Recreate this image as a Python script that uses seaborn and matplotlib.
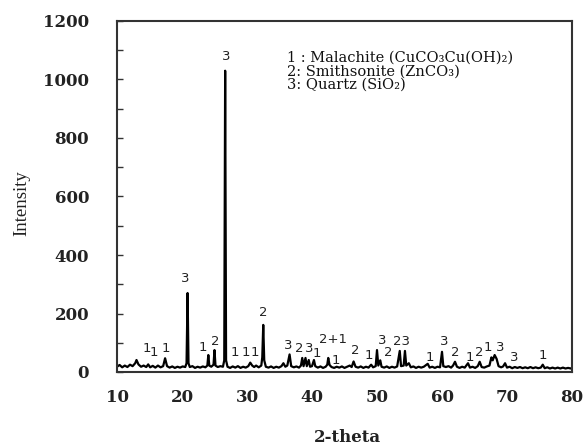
import matplotlib
matplotlib.use("Agg")
import matplotlib.pyplot as plt
import seaborn as sns
import pandas as pd
from matplotlib.ticker import MultipleLocator

# ---- data ----
two_theta = [10.0, 10.4, 10.8, 11.2, 11.6, 12.0, 12.4, 12.8, 13.0, 13.3, 13.7, 14.1, 14.5, 14.8, 15.1,
             15.5, 15.9, 16.3, 16.7, 17.1, 17.4, 17.7, 18.1, 18.5, 18.9, 19.3, 19.7, 20.1, 20.5, 20.7,
             20.86, 21.0, 21.2, 21.6, 22.0, 22.4, 22.8, 23.2, 23.6, 23.9, 24.05, 24.2, 24.5, 24.85, 25.0,
             25.15, 25.5, 25.9, 26.3, 26.5, 26.64, 26.78, 27.0, 27.4, 27.8, 28.2, 28.6, 29.0, 29.4, 29.8,
             30.2, 30.5, 30.8, 31.1, 31.4, 31.8, 32.2, 32.35, 32.5, 32.65, 32.9, 33.3, 33.7, 34.1, 34.5,
             34.9, 35.3, 35.6, 35.9, 36.2, 36.55, 36.8, 37.2, 37.6, 38.0, 38.3, 38.5, 38.7, 39.0, 39.2,
             39.5, 39.7, 40.0, 40.3, 40.5, 40.9, 41.3, 41.7, 42.1, 42.35, 42.5, 42.7, 43.0, 43.4, 43.8,
             44.2, 44.6, 45.0, 45.4, 45.8, 46.1, 46.4, 46.7, 47.1, 47.5, 47.9, 48.3, 48.7, 49.1, 49.4,
             49.8, 50.0, 50.2, 50.5, 50.7, 51.1, 51.5, 51.9, 52.3, 52.7, 53.1, 53.5, 53.7, 54.1, 54.3,
             54.5, 54.9, 55.2, 55.6, 56.0, 56.4, 56.8, 57.2, 57.8, 58.1, 58.5, 58.9, 59.3, 59.7, 60.0,
             60.2, 60.6, 61.0, 61.4, 61.7, 62.0, 62.3, 62.7, 63.1, 63.5, 64.0, 64.3, 64.7, 65.1, 65.5,
             65.8, 66.1, 66.5, 66.9, 67.3, 67.6, 67.8, 68.1, 68.4, 68.7, 69.1, 69.4, 69.7, 70.0, 70.4,
             70.8, 71.2, 71.6, 72.0, 72.4, 72.8, 73.2, 73.6, 74.0, 74.4, 74.8, 75.2, 75.5, 75.8, 76.2,
             76.6, 77.0, 77.4, 77.8, 78.2, 78.6, 79.0, 79.4, 79.8, 80.0]
intensity = [18, 24, 16, 22, 17, 25, 20, 30, 41, 26, 18, 22, 17, 26, 16,
             21, 15, 22, 16, 20, 47, 20, 15, 19, 14, 18, 15, 19, 17, 30,
             270, 30, 17, 20, 14, 18, 15, 19, 16, 22, 58, 22, 18, 25, 75,
             22, 17, 20, 18, 40, 1030, 40, 18, 14, 19, 15, 20, 14, 18, 15,
             20, 32, 22, 17, 22, 16, 22, 50, 161, 40, 18, 15, 19, 14, 18,
             15, 20, 30, 18, 22, 60, 20, 16, 19, 15, 22, 48, 20, 48, 20,
             41, 18, 20, 41, 20, 15, 19, 14, 18, 25, 48, 24, 17, 14, 18,
             15, 19, 14, 18, 22, 17, 36, 18, 15, 19, 14, 18, 15, 25, 16,
             20, 75, 22, 40, 18, 15, 19, 14, 18, 15, 19, 72, 20, 22, 72,
             22, 30, 16, 19, 14, 18, 15, 18, 28, 15, 18, 14, 18, 16, 69,
             20, 17, 20, 15, 22, 35, 18, 14, 18, 15, 30, 15, 18, 14, 20,
             35, 17, 15, 19, 22, 50, 40, 58, 45, 20, 16, 19, 30, 15, 18,
             13, 17, 14, 17, 13, 16, 13, 17, 13, 16, 13, 15, 25, 13, 16,
             12, 15, 12, 15, 12, 15, 12, 14, 12, 14]

peak_labels = ["1", "1", "1", "3", "1", "2", "3", "1", "1", "1", "2", "3", "2", "3", "1",
               "2+1", "1", "2", "1", "3", "2", "23", "1", "3", "2", "1", "2", "1", "3", "3", "1"]
label_x = [14.6, 15.7, 17.5, 20.5, 23.2, 25.1, 26.8, 28.2, 29.8, 31.2, 32.5, 36.3, 38.1, 39.5, 40.8,
           43.2, 43.7, 46.6, 48.8, 50.8, 51.7, 53.8, 58.2, 60.3, 62.0, 64.3, 65.8, 67.1, 68.9, 71.1, 75.5]
label_y = [82, 68, 82, 318, 85, 103, 1077, 65, 65, 68, 202, 92, 82, 82, 63,
           112, 38, 75, 58, 109, 65, 103, 48, 103, 65, 48, 65, 85, 85, 51, 58]

legend_lines = ["1 : Malachite (CuCO\u2083Cu(OH)\u2082)",
                "2: Smithsonite (ZnCO\u2083)",
                "3: Quartz (SiO\u2082)"]
legend_y = [1073, 1027, 981]

x_ticks = [10, 20, 30, 40, 50, 60, 70, 80]
y_ticks = [0, 200, 400, 600, 800, 1000, 1200]

# ---- plot ----
sns.set_theme(style="white")
W, H = 584, 447
fig = plt.figure(figsize=(W / 100, H / 100), dpi=100)
ax = fig.add_axes([117 / W, 1 - 372 / H, (572 - 117) / W, (372 - 21) / H])

df = pd.DataFrame({"2-theta": two_theta, "Intensity": intensity})
sns.lineplot(data=df, x="2-theta", y="Intensity", ax=ax, color="black", linewidth=1.6,
             sort=False, estimator=None)

ax.set_xlim(10, 80)
ax.set_ylim(0, 1200)
ax.set_xticks(x_ticks)
ax.set_yticks(y_ticks)
ax.yaxis.set_minor_locator(MultipleLocator(100))
ax.set_xlabel("")
ax.set_ylabel("")

tick_font = dict(family="DejaVu Serif", weight="bold", size=12)
ax.set_xticklabels([str(v) for v in x_ticks], fontdict=tick_font, color="#222222")
ax.set_yticklabels([str(v) for v in y_ticks], fontdict=tick_font, color="#222222")
ax.tick_params(axis="y", which="both", direction="in", length=4, width=1, color="#333333", pad=20, left=True)
ax.tick_params(axis="x", which="both", direction="in", length=0, pad=12)

for s in ax.spines.values():
    s.set_color("#333333")
    s.set_linewidth(1.5)
    s.set_visible(True)

for t, x, y in zip(peak_labels, label_x, label_y):
    ax.text(x, y, t, ha="center", va="center", fontsize=9.5, family="DejaVu Sans", color="#222222")

for line, y in zip(legend_lines, legend_y):
    ax.text(36.15, y, line, ha="left", va="center", fontsize=10.5,
            family="DejaVu Serif", color="#111111")

fig.text(347 / W, 1 - 437 / H, "2-theta", ha="center", va="center",
         family="DejaVu Serif", weight="bold", size=12, color="#222222")
fig.text(22 / W, 1 - 203 / H, "Intensity", ha="center", va="center", rotation=90,
         family=["Liberation Serif", "DejaVu Serif"], size=13.5, color="#222222")

fig.savefig("out.png", dpi=100)
